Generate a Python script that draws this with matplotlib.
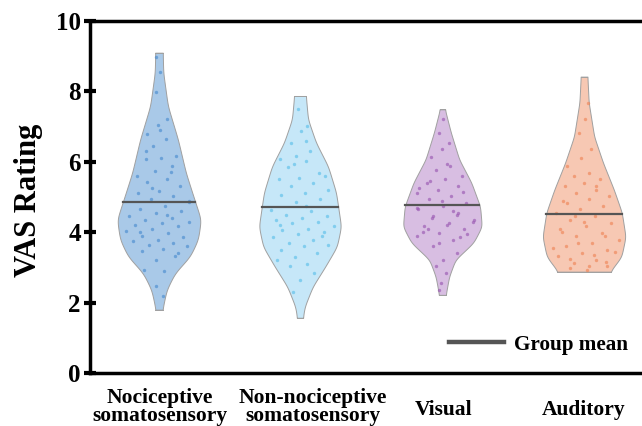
import numpy as np
import matplotlib
matplotlib.use("Agg")
import matplotlib.pyplot as plt
from matplotlib.lines import Line2D
from matplotlib.transforms import ScaledTranslation

# ---------------- data ----------------
categories = ["Nociceptive\nsomatosensory", "Non-nociceptive\nsomatosensory", "Visual", "Auditory"]
group_means = [4.85, 4.72, 4.77, 4.53]

# violin outlines: rating levels and relative density (1 = widest)
noci_levels = [1.80, 2.36, 2.84, 3.31, 3.79, 4.36, 5.13, 5.69, 6.64, 7.59, 8.54, 9.10]
noci_density = [0.08, 0.18, 0.38, 0.74, 0.93, 1.00, 0.79, 0.64, 0.45, 0.21, 0.10, 0.09]
nonnoci_levels = [1.57, 1.88, 2.45, 3.02, 3.59, 4.16, 5.13, 5.87, 6.55, 7.21, 7.87]
nonnoci_density = [0.07, 0.11, 0.30, 0.60, 0.88, 0.98, 0.86, 0.67, 0.38, 0.19, 0.14]
visual_levels = [2.22, 2.74, 3.22, 3.70, 4.16, 4.73, 5.41, 6.07, 6.84, 7.49]
visual_density = [0.08, 0.16, 0.31, 0.74, 0.94, 0.90, 0.69, 0.40, 0.20, 0.06]
audit_levels = [2.88, 3.02, 3.30, 3.87, 4.56, 5.21, 5.98, 6.72, 7.69, 8.42]
audit_density = [0.62, 0.71, 0.89, 0.99, 0.90, 0.71, 0.45, 0.24, 0.11, 0.08]

# individual ratings (dots)
noci_ratings = [8.97, 8.54, 7.97, 7.21, 7.05, 6.78, 6.64, 6.45, 6.16, 6.12, 6.07, 5.88, 5.75,
                5.60, 5.50, 5.42, 5.31, 5.17, 5.10, 5.03, 4.93, 4.85, 4.74, 4.65, 4.60, 4.55,
                4.46, 4.40, 4.36, 4.30, 4.26, 4.20, 4.17, 4.10, 4.03, 3.97, 3.89, 3.85, 3.79,
                3.75, 3.70, 3.65, 3.60, 3.52, 3.46, 3.31, 3.20, 2.94, 2.90, 2.46, 2.18, 6.90,
                6.30, 5.70, 5.25, 4.90, 4.50, 4.00, 3.40]
nonnoci_ratings = [7.49, 7.02, 6.88, 6.54, 6.30, 6.16, 6.07, 6.02, 5.85, 5.69, 5.55, 5.50, 5.40,
                   5.30, 5.20, 5.12, 5.05, 4.93, 4.85, 4.64, 4.60, 4.50, 4.45, 4.40, 4.35, 4.30,
                   4.25, 4.17, 4.10, 4.07, 4.00, 3.95, 3.85, 3.79, 3.70, 3.65, 3.60, 3.50, 3.41,
                   3.30, 3.22, 3.10, 3.03, 2.85, 2.65, 2.30, 6.60, 5.95, 5.60, 4.75, 4.20, 3.90]
visual_ratings = [7.21, 6.83, 6.54, 6.35, 6.15, 5.88, 5.78, 5.60, 5.50, 5.40, 5.30, 5.21, 5.12,
                  5.03, 4.93, 4.84, 4.74, 4.65, 4.55, 4.46, 4.36, 4.27, 4.17, 4.08, 3.98, 3.89,
                  3.79, 3.60, 3.41, 3.22, 3.03, 2.84, 2.56, 2.37, 5.95, 5.45, 5.15, 4.90, 4.70,
                  4.50, 4.40, 4.30, 4.20, 4.00, 3.85, 3.70, 5.25, 4.60, 4.10, 3.95]
audit_ratings = [7.68, 7.21, 6.83, 6.35, 6.10, 5.88, 5.69, 5.60, 5.50, 5.40, 5.31, 5.21, 5.12,
                 5.03, 4.93, 4.84, 4.74, 4.65, 4.55, 4.46, 4.36, 4.27, 4.17, 4.08, 3.98, 3.88,
                 3.79, 3.70, 3.60, 3.50, 3.41, 3.31, 3.22, 3.12, 3.03, 2.94, 4.00, 3.90, 3.70,
                 3.55, 3.35, 3.25, 3.15, 4.30, 4.90, 5.30, 4.45, 3.45, 3.05, 2.97]

y_ticks = [0, 2, 4, 6, 8, 10]

# ---------------- style ----------------
fill_colors = ["#a9c9e8", "#c6e7f8", "#d8bee2", "#f7c8b3"]
dot_colors = ["#4a8ccf", "#5cbfea", "#9a58b2", "#ee8558"]
serif = ["Liberation Serif", "DejaVu Serif"]

levels_all = [noci_levels, nonnoci_levels, visual_levels, audit_levels]
dens_all = [noci_density, nonnoci_density, visual_density, audit_density]
ratings_all = [noci_ratings, nonnoci_ratings, visual_ratings, audit_ratings]
positions = [0, 0.995, 2.0, 3.0]
label_dx_px = [1, 13, 1, 0]      # small horizontal offsets of category labels
label_dy_px = [-34, -34, -37, -37]
max_half = 0.296

fig = plt.figure(figsize=(6.42, 4.26), dpi=100)
ax = fig.add_axes([90 / 642, 53 / 426, 1 - 90 / 642, 352 / 426])

for i in range(4):
    lv = np.asarray(levels_all[i], float)
    dn = np.asarray(dens_all[i], float)
    yy = np.linspace(lv[0], lv[-1], 400)
    hw = np.interp(yy, lv, dn)
    # light smoothing of the outline
    k = np.exp(-0.5 * (np.linspace(-3, 3, 41)) ** 2)
    k /= k.sum()
    pad = np.pad(hw, 20, mode="edge")
    hw = np.convolve(pad, k, mode="valid") * max_half
    x0 = positions[i]
    ax.fill_betweenx(yy, x0 - hw, x0 + hw, facecolor=fill_colors[i], edgecolor="#a0a0a0",
                     linewidth=0.7, zorder=2)
    ax.plot([x0 - hw[0], x0 + hw[0]], [yy[0], yy[0]], color="#a0a0a0", lw=0.7, zorder=2)
    ax.plot([x0 - hw[-1], x0 + hw[-1]], [yy[-1], yy[-1]], color="#a0a0a0", lw=0.7, zorder=2)
    # dots
    r = np.asarray(ratings_all[i], float)
    idx = np.arange(len(r))
    frac = (idx * 0.6180339887 + 0.31 * i) % 1.0
    local = np.interp(r, yy, hw)
    xs = x0 + (frac * 2 - 1) * 0.85 * local
    ax.scatter(xs, r, s=6, color=dot_colors[i], alpha=0.65, linewidths=0, zorder=3)
    # mean line
    m = group_means[i]
    mw = np.interp(m, yy, hw)
    ax.plot([x0 - mw, x0 + mw], [m, m], color="#555555", lw=1.6, zorder=4)

ax.set_xlim(-0.487, 3.409)
ax.set_ylim(0, 10)
ax.set_yticks(y_ticks)
ax.set_yticklabels([str(t) for t in y_ticks], fontfamily=serif, fontweight="bold", fontsize=18)
ax.set_xticks(positions)
ax.set_xticklabels([])
ax.tick_params(axis="x", length=0)

for i, cat in enumerate(categories):
    tr = ax.get_xaxis_transform() + ScaledTranslation(label_dx_px[i] / 100,
                                                      label_dy_px[i] / 100,
                                                      fig.dpi_scale_trans)
    ax.text(positions[i], 0, cat, transform=tr, ha="center", va="center",
            fontfamily=serif, fontweight="bold", fontsize=15.5, linespacing=0.92,
            clip_on=False)

ax.tick_params(axis="y", direction="inout", length=9, width=3, pad=2, color="black")
for s in ["left", "top", "bottom"]:
    ax.spines[s].set_linewidth(2.5)
    ax.spines[s].set_color("black")
ax.spines["right"].set_visible(False)

fig.text(29 / 642, 1 - 200 / 426, "VAS Rating", rotation=90, ha="center", va="center",
         fontfamily=serif, fontweight="bold", fontsize=22)

h = Line2D([0], [0], color="#555555", lw=3.2)
ax.legend([h], ["Group mean"], loc="center right", bbox_to_anchor=(0.975, 0.08),
          frameon=False, handlelength=2.6, handletextpad=0.48, borderaxespad=0, borderpad=0,
          prop={"family": serif, "weight": "bold", "size": 15.2})

fig.savefig("out.png", dpi=100)
